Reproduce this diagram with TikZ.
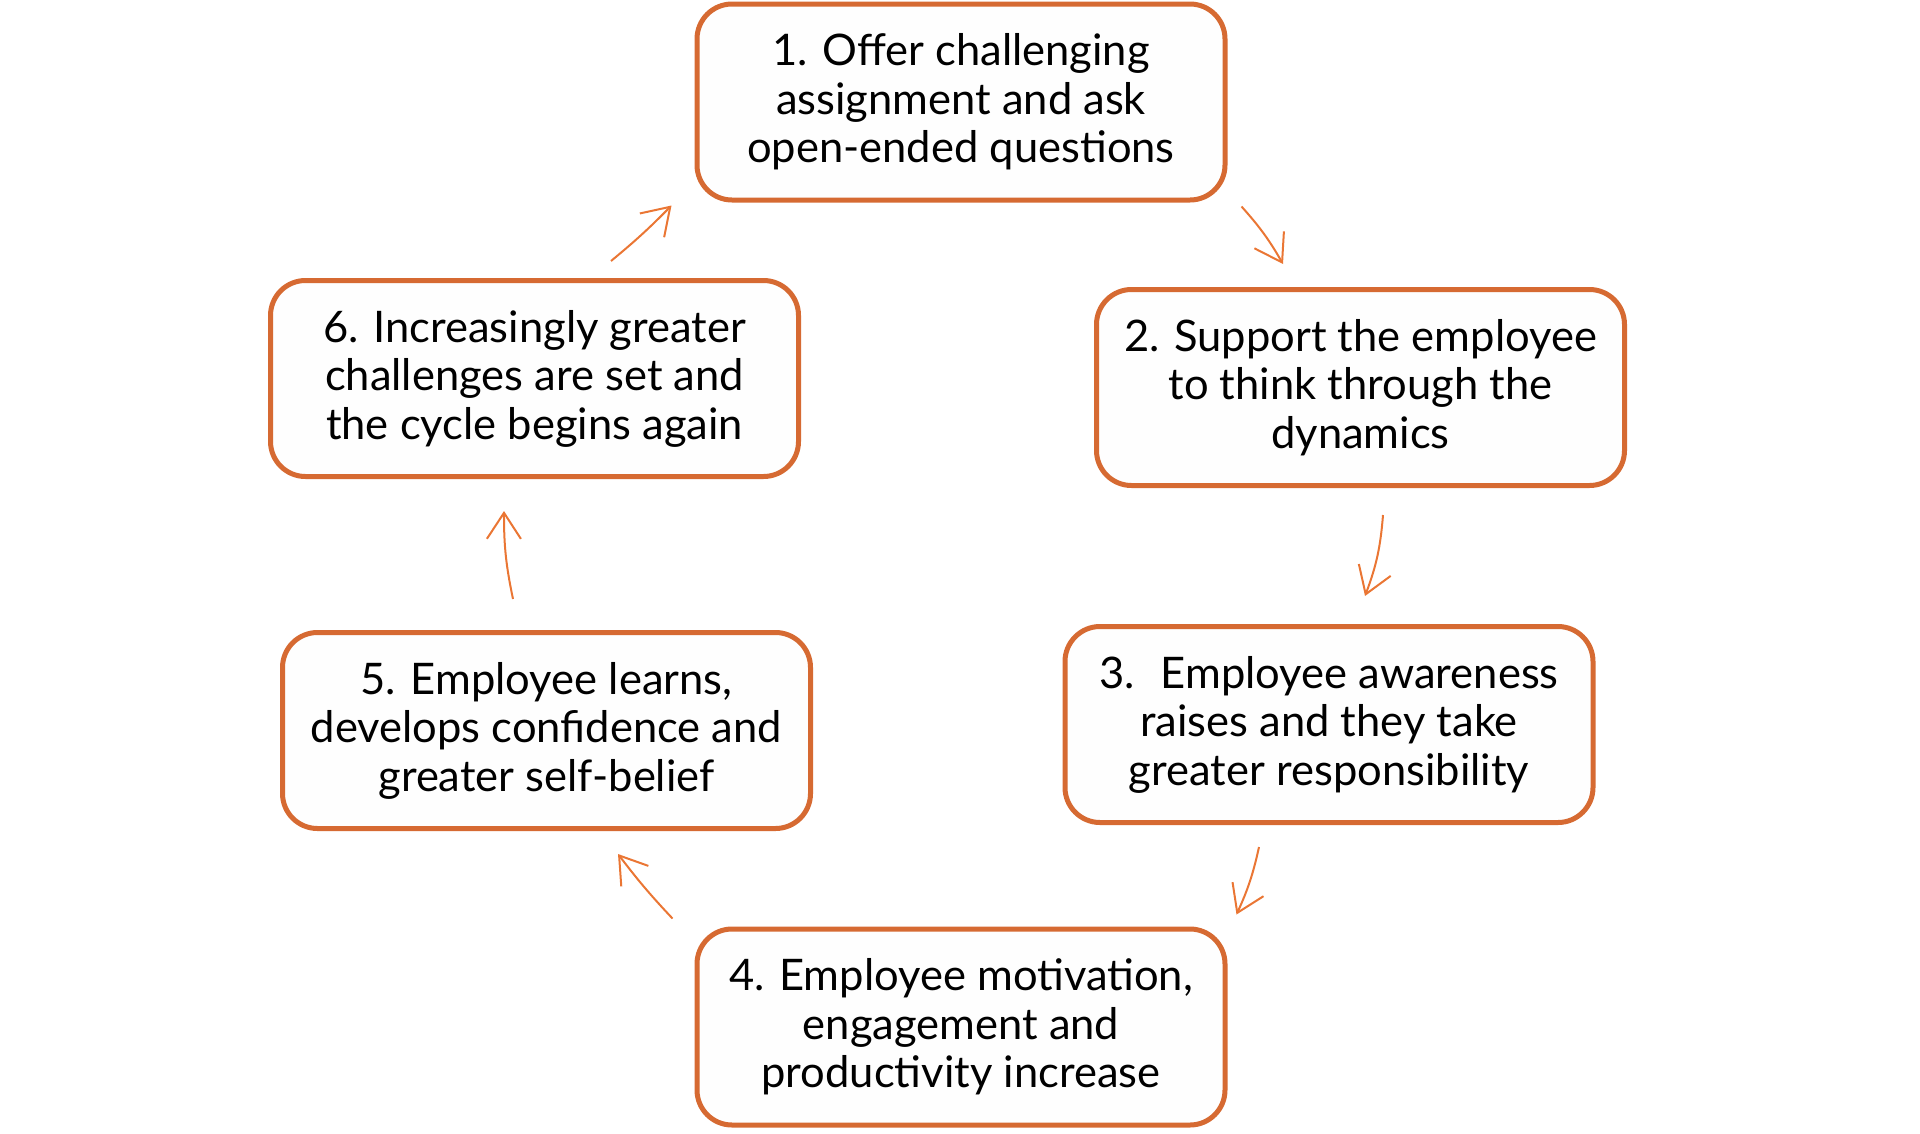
\documentclass[tikz,border=0pt]{standalone}
\usepackage{fontspec}
\setmainfont{Lato}
\usetikzlibrary{arrows.meta,calc}
\definecolor{boxline}{RGB}{214,106,50}
\definecolor{arrowline}{RGB}{234,118,52}
\definecolor{boxfill}{RGB}{254,254,254}

\begin{document}
\begin{tikzpicture}[x=1pt,y=-1pt,
		stage/.style={draw=boxline,line width=5pt,fill=boxfill,rounded corners=35pt,
			minimum width=528pt,minimum height=196pt,align=center,inner sep=0pt,
			font=\fontsize{43.5}{48.5}\selectfont},
		flow/.style={draw=arrowline,line width=2pt,-{Straight Barb[length=26pt,width=34pt]}}]
		\useasboundingbox (0,0) rectangle (1920,1133);
		% the six stages of the cycle
		\node[stage] (one) at (961,102) {1. Offer challenging\\assignment and ask\\open-ended questions};
		\node[stage] (two) at (1360.5,387.5) {2. Support the employee\\to think through the\\dynamics};
		\node[stage] (three) at (1329,724.5) {3.~ Employee awareness\\raises and they take\\greater responsibility};
		\node[stage] (four) at (961,1027) {4. Employee motivation,\\engagement and\\productivity increase};
		\node[stage] (five) at (546.5,730.5) {5. Employee learns,\\develops confidence and\\greater self-belief};
		\node[stage] (six) at (534.5,378.5) {6. Increasingly greater\\challenges are set and\\the cycle begins again};
		% arrows round the cycle
		\draw[flow] ($(one.south east)+(14,4)$) to[bend left=6] ($(two.north)+(-77.5,-23)$);
		\draw[flow] ($(two.south)+(22.5,27)$) to[bend left=8] ($(three.north)+(36,-28)$);
		\draw[flow] ($(three.south)+(-70,22)$) to[bend left=6] ($(four.north east)+(9,-12)$);
		\draw[flow] ($(four.north west)+(-22,-8)$) to[bend left=3] ($(five.south)+(71.5,23)$);
		\draw[flow] ($(five.north)+(-33.5,-31)$) to[bend left=6] ($(six.south)+(-30.5,32)$);
		\draw[flow] ($(six.north)+(76.5,-17)$) to[bend right=3] ($(one.south west)+(-23,3)$);
\end{tikzpicture}
\end{document}
